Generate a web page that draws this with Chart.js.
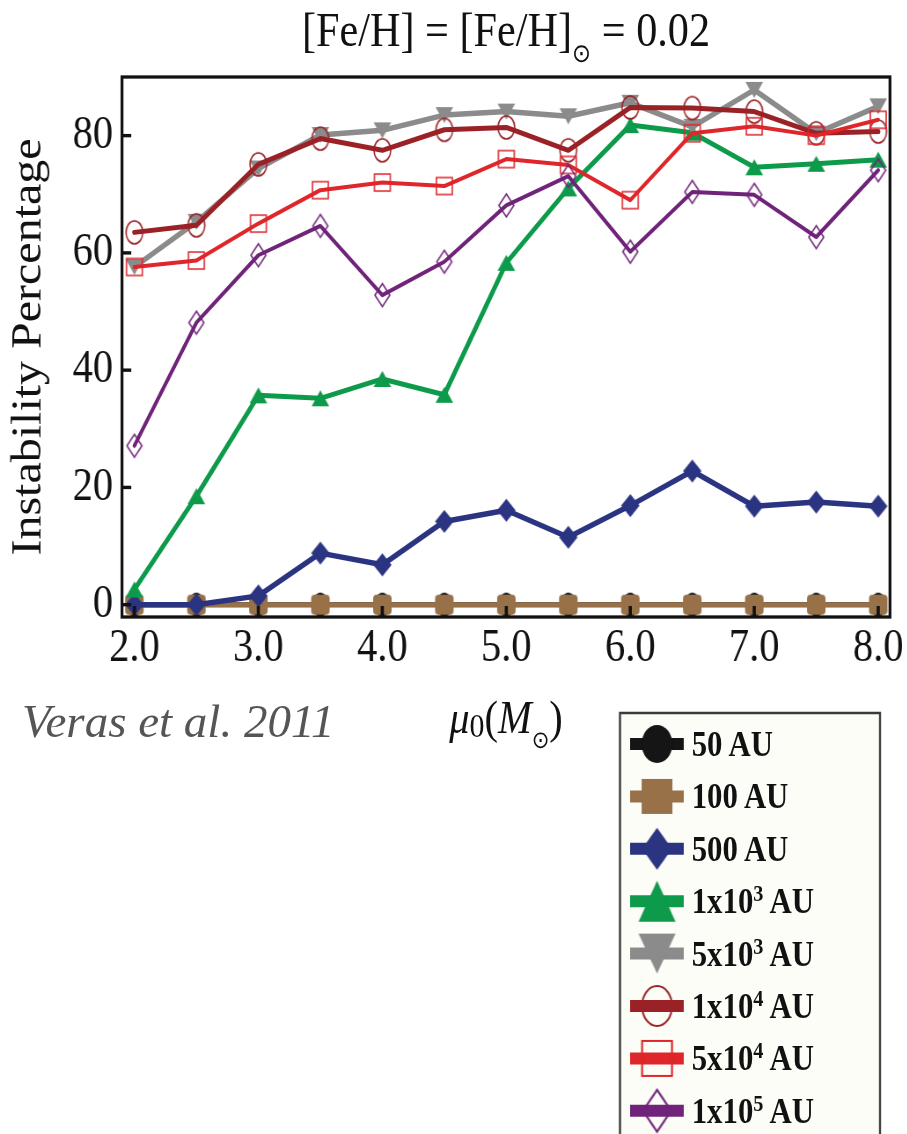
<!DOCTYPE html>
<html>
<head>
<meta charset="utf-8">
<title>Instability Percentage vs progenitor mass</title>
<script src="https://cdn.jsdelivr.net/npm/chart.js@4.4.1/dist/chart.umd.min.js"></script>
<style>
  html, body { margin: 0; padding: 0; background: #fff; }
  body { width: 907px; height: 1134px; overflow: hidden; position: relative; }
  /* the figure is drawn on a wider canvas and compressed horizontally */
  #wrap { position: absolute; left: 0; top: 0; width: 1031px; height: 1134px;
          transform: scaleX(0.88); transform-origin: 0 0; }
  #wrap canvas { display: block; }
  .serif { font-family: 'Liberation Serif', 'Times New Roman', serif; color: #111; white-space: nowrap; }
  #title { position: absolute; left: 138.6px; width: 872.8px; top: 6px; text-align: center;
           font-size: 48px; line-height: 48px; }
  #xlabel { position: absolute; left: 138.6px; width: 872.8px; top: 695px; text-align: center;
            font-size: 46px; line-height: 46px; }
  .sun { font-family: 'DejaVu Sans', sans-serif; font-size: 26px; vertical-align: -16px; line-height: 0; }
  #xlabel .sun { font-size: 24px; vertical-align: -15px; }
  .sub0 { font-size: 34px; vertical-align: -4px; line-height: 0; }
  .leg { position: absolute; left: 786px; font-weight: bold; font-size: 35px; line-height: 35px; }
  .leg sup { font-size: 23px; vertical-align: 12px; line-height: 0; }
  #cite { position: absolute; left: 22px; top: 698px; font-family: 'Liberation Serif', serif;
          font-style: italic; font-size: 47px; line-height: 47px; color: #555; white-space: nowrap; }
</style>
</head>
<body>
<div id="wrap">
  <canvas id="chart"></canvas>
  <div id="title" class="serif">[Fe/H] = [Fe/H]<span class="sun">⊙</span> = 0.02</div>
  <div id="xlabel" class="serif"><i>μ</i><span class="sub0">0</span>(<i>M</i><span class="sun">⊙</span>)</div>
  <div id="legendText"></div>
</div>
<div id="cite">Veras et al. 2011</div>

<script>
// progenitor main-sequence mass (solar masses)
const masses = [2.0, 2.5, 3.0, 3.5, 4.0, 4.5, 5.0, 5.5, 6.0, 6.5, 7.0, 7.5, 8.0];

// instability percentage for each initial planet separation
const au50   = [0, 0, 0, 0, 0, 0, 0, 0, 0, 0, 0, 0, 0];
const au100  = [0, 0, 0, 0, 0, 0, 0, 0, 0, 0, 0, 0, 0];
const au500  = [0, 0, 1.5, 8.8, 6.8, 14.2, 16.1, 11.5, 16.9, 22.8, 16.8, 17.5, 16.8];
const au1e3  = [2.6, 18.5, 35.7, 35.2, 38.5, 35.8, 58.3, 71.0, 81.8, 80.5, 74.6, 75.2, 75.9];
const au5e3  = [57.6, 65.3, 74.4, 80.1, 80.9, 83.5, 84.1, 83.3, 85.6, 81.5, 87.8, 80.4, 85.0];
const au1e4  = [63.5, 64.7, 75.1, 79.5, 77.5, 81.0, 81.4, 77.5, 84.8, 84.7, 84.1, 80.4, 80.7];
const au5e4  = [57.6, 58.7, 65.0, 70.7, 72.0, 71.4, 76.0, 75.0, 69.0, 80.4, 81.6, 80.0, 82.7];
const au1e5  = [27.1, 48.1, 59.6, 64.6, 52.8, 58.5, 68.1, 73.1, 60.2, 70.4, 69.9, 62.7, 74.1];

// axis ticks
const xTicks = [2, 3, 4, 5, 6, 7, 8];
const yTicks = [0, 20, 40, 60, 80];

// legend text: mantissa and power of ten
const legendMant = ['50', '100', '500', '1x10', '5x10', '1x10', '5x10', '1x10'];
const legendExp  = ['', '', '', '3', '3', '4', '4', '5'];

const SERIF = "'Liberation Serif', 'Times New Roman', serif";

// marker bitmaps (ellipses, squares, diamonds, triangles)
function mk(shape, w, h, fill, stroke, lw) {
  lw = lw || 0;
  const pad = Math.ceil(lw) + 2;
  const c = document.createElement('canvas');
  c.width = Math.round(w + 2 * pad);
  c.height = Math.round(h + 2 * pad);
  const g = c.getContext('2d');
  const cx = c.width / 2, cy = c.height / 2, rx = w / 2, ry = h / 2;
  g.beginPath();
  if (shape === 'ellipse') {
    g.ellipse(cx, cy, rx, ry, 0, 0, Math.PI * 2);
  } else if (shape === 'rect') {
    g.rect(cx - rx, cy - ry, w, h);
  } else if (shape === 'roundrect') {
    g.roundRect(cx - rx, cy - ry, w, h, 4);
  } else if (shape === 'diamond') {
    g.moveTo(cx, cy - ry); g.lineTo(cx + rx, cy); g.lineTo(cx, cy + ry); g.lineTo(cx - rx, cy); g.closePath();
  } else if (shape === 'tri') {
    g.moveTo(cx, cy - ry); g.lineTo(cx + rx, cy + ry); g.lineTo(cx - rx, cy + ry); g.closePath();
  } else if (shape === 'itri') {
    g.moveTo(cx, cy + ry); g.lineTo(cx + rx, cy - ry); g.lineTo(cx - rx, cy - ry); g.closePath();
  }
  if (fill) { g.fillStyle = fill; g.fill(); }
  if (stroke) { g.strokeStyle = stroke; g.lineWidth = lw; g.lineJoin = 'miter'; g.stroke(); }
  return c;
}

const pts = arr => arr.map((v, i) => ({ x: masses[i], y: v }));

const C = {
  black: '#151515', brown: '#987149', navy: '#2b3481', green: '#0d9a4b',
  gray: '#8b8b8b', darkred: '#9a2227', red: '#de262b', purple: '#6f2379'
};

const series = [
  { label: '50 AU',  data: au50,  color: C.black,   width: 5,
    mark: mk('ellipse', 18, 24, C.black),            lmark: mk('ellipse', 35, 38, C.black) },
  { label: '100 AU', data: au100, color: C.brown,   width: 5,
    mark: mk('roundrect', 21, 20, C.brown),          lmark: mk('rect', 35, 35, C.brown) },
  { label: '500 AU', data: au500, color: C.navy,    width: 5.5,
    mark: mk('diamond', 21, 23, C.navy),             lmark: mk('diamond', 34, 42, C.navy) },
  { label: '1x10³ AU', data: au1e3, color: C.green, width: 5,
    mark: mk('tri', 20, 16, C.green),                lmark: mk('tri', 42, 41, C.green) },
  { label: '5x10³ AU', data: au5e3, color: C.gray,  width: 5.5,
    mark: mk('itri', 20, 16, C.gray),                lmark: mk('itri', 42, 40, C.gray) },
  { label: '1x10⁴ AU', data: au1e4, color: C.darkred, width: 5,
    mark: mk('ellipse', 19, 23, null, C.darkred, 1.6), lmark: mk('ellipse', 34, 40, null, C.darkred, 2.2) },
  { label: '5x10⁴ AU', data: au5e4, color: C.red,   width: 4,
    mark: mk('rect', 18, 17, null, C.red, 1.6),      lmark: mk('rect', 34, 35, null, C.red, 2.2) },
  { label: '1x10⁵ AU', data: au1e5, color: C.purple, width: 4,
    mark: mk('diamond', 17, 23, null, C.purple, 1.6), lmark: mk('diamond', 32, 42, null, C.purple, 2.2) }
];

// legend panel geometry (canvas units)
const LEG = { left: 704.5, right: 1000, top: 713, lineX0: 716, lineX1: 777, markX: 746.6,
              row0: 744, rowStep: 52.4 };

// legend labels as text
const legendText = document.getElementById('legendText');
legendMant.forEach((m, i) => {
  const d = document.createElement('div');
  d.className = 'leg serif';
  d.style.top = (LEG.row0 + i * LEG.rowStep - 17) + 'px';
  d.innerHTML = m + (legendExp[i] ? '<sup>' + legendExp[i] + '</sup>' : '') + ' AU';
  legendText.appendChild(d);
});

// frame, inward tick marks and the legend panel
const framePlugin = {
  id: 'frame',
  afterDatasetsDraw(chart) {
    const { ctx, chartArea: a, scales: { x, y } } = chart;
    ctx.save();
    ctx.strokeStyle = '#111';
    ctx.lineCap = 'butt';
    ctx.lineWidth = 3.6;
    xTicks.forEach(v => {
      const px = x.getPixelForValue(v);
      ctx.beginPath(); ctx.moveTo(px, a.bottom); ctx.lineTo(px, a.bottom - 11); ctx.stroke();
    });
    ctx.lineWidth = 3.4;
    yTicks.forEach(v => {
      const py = y.getPixelForValue(v);
      ctx.beginPath(); ctx.moveTo(a.left, py); ctx.lineTo(a.left + 10.5, py); ctx.stroke();
    });
    ctx.lineWidth = 3.3;
    ctx.strokeRect(a.left, a.top, a.right - a.left, a.bottom - a.top);
    ctx.restore();
  },
  afterDraw(chart) {
    const ctx = chart.ctx;
    ctx.save();
    ctx.fillStyle = '#fdfdf7';
    ctx.strokeStyle = '#3a3a3a';
    ctx.lineWidth = 2.4;
    ctx.beginPath();
    ctx.rect(LEG.left, LEG.top, LEG.right - LEG.left, 1140 - LEG.top);
    ctx.fill(); ctx.stroke();
    chart.data.datasets.forEach((ds, i) => {
      const cy = LEG.row0 + i * LEG.rowStep;
      ctx.strokeStyle = ds.borderColor;
      ctx.lineWidth = 12;
      ctx.beginPath(); ctx.moveTo(LEG.lineX0, cy); ctx.lineTo(LEG.lineX1, cy); ctx.stroke();
      const img = ds.legendMarker;
      ctx.drawImage(img, LEG.markX - img.width / 2, cy - img.height / 2);
    });
    ctx.restore();
  }
};

const datasets = series.map((s, i) => ({
  label: s.label,
  data: pts(s.data),
  borderColor: s.color,
  backgroundColor: s.color,
  borderWidth: s.width,
  borderJoinStyle: 'round',
  borderCapStyle: 'round',
  pointStyle: s.mark,
  pointRadius: 8,
  pointHoverRadius: 8,
  tension: 0,
  fill: false,
  order: series.length - 1 - i,
  legendMarker: s.lmark
}));

new Chart(document.getElementById('chart'), {
  type: 'line',
  data: { datasets },
  options: {
    responsive: true,
    maintainAspectRatio: false,
    animation: false,
    events: [],
    layout: { padding: { left: 0, top: 77, right: 19.6, bottom: 1134 - 617 - 70 } },
    plugins: { legend: { display: false }, title: { display: false }, tooltip: { enabled: false } },
    scales: {
      x: {
        type: 'linear',
        min: 1.9, max: 8.095,
        afterBuildTicks: s => { s.ticks = xTicks.map(v => ({ value: v })); },
        afterFit: s => { s.height = 70; },
        grid: { display: false, drawTicks: false },
        border: { display: false },
        ticks: {
          autoSkip: false, maxRotation: 0, padding: 4, color: '#111',
          font: { family: SERIF, size: 46 },
          callback: v => Number(v).toFixed(1)
        }
      },
      y: {
        min: -2.1, max: 90,
        afterBuildTicks: s => { s.ticks = yTicks.map(v => ({ value: v })); },
        afterFit: s => { s.width = 138.6; },
        grid: { display: false, drawTicks: false },
        border: { display: false },
        ticks: {
          autoSkip: false, padding: 10, color: '#111',
          font: { family: SERIF, size: 46 },
          callback: v => String(v)
        },
        title: {
          display: true, text: 'Instability Percentage', color: '#111',
          font: { family: SERIF, size: 48 },
          padding: { top: 5, bottom: 0 }
        }
      }
    }
  },
  plugins: [framePlugin]
});
</script>
</body>
</html>
